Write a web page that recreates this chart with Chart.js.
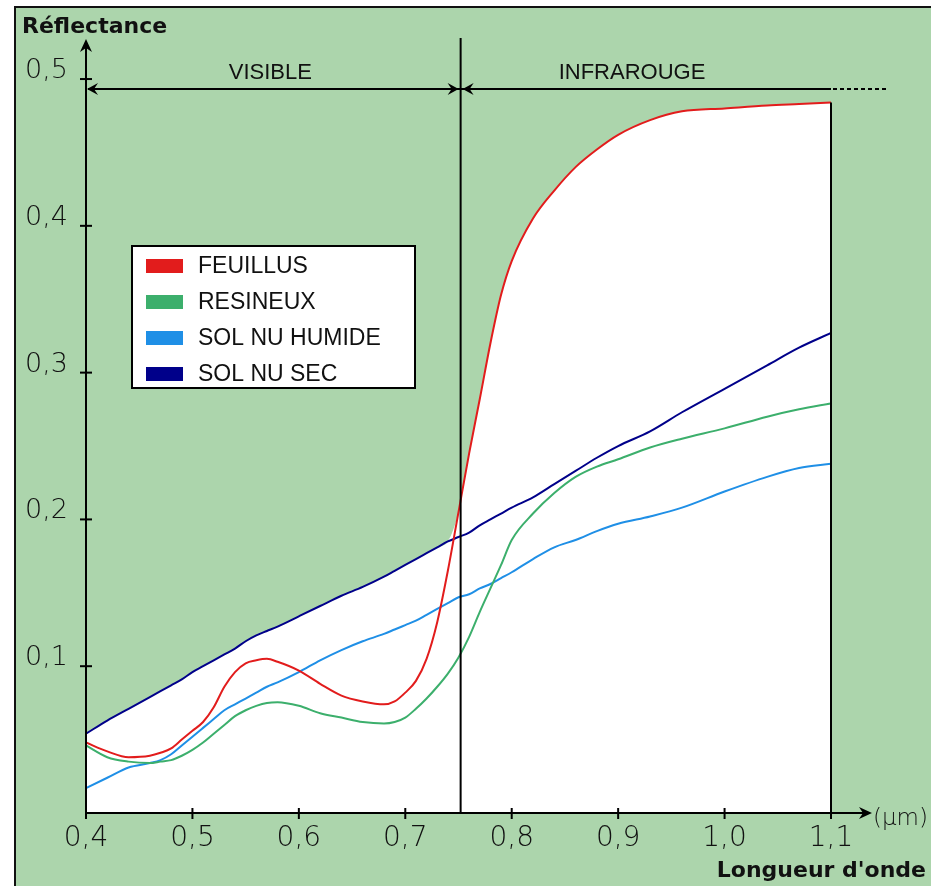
<!DOCTYPE html>
<html><head><meta charset="utf-8">
<script src="https://cdn.jsdelivr.net/npm/chart.js@4"></script>
<style>html,body{margin:0;padding:0;background:#fff;overflow:hidden}canvas{display:block}</style>
</head><body>
<canvas id="c" width="931" height="886"></canvas>
<script>
// ---- data ----
const wavelength = [0.40,0.42,0.44,0.46,0.47,0.48,0.49,0.50,0.51,0.52,0.53,0.54,0.55,0.56,0.57,0.58,0.60,0.62,0.64,0.66,0.68,0.69,0.70,0.71,0.72,0.73,0.74,0.75,0.76,0.77,0.78,0.79,0.80,0.82,0.84,0.86,0.88,0.90,0.93,0.96,1.00,1.04,1.07,1.10];
const feuillus  = [.048,.042,.038,.039,.041,.044,.050,.056,.062,.072,.086,.096,.102,.104,.105,.103,.097,.088,.080,.076,.074,.076,.082,.090,.105,.130,.165,.205,.245,.282,.320,.353,.376,.405,.424,.440,.452,.462,.472,.478,.480,.482,.483,.484];
const resineux  = [.046,.038,.035,.034,.035,.036,.039,.043,.048,.054,.060,.066,.070,.073,.075,.0755,.073,.068,.065,.062,.061,.062,.065,.071,.078,.086,.095,.106,.120,.137,.153,.169,.186,.204,.218,.229,.236,.241,.249,.255,.262,.270,.275,.279];
const solHumide = [.017,.024,.031,.034,.036,.040,.046,.052,.058,.064,.070,.074,.078,.082,.086,.089,.096,.104,.111,.117,.122,.125,.128,.131,.135,.139,.143,.147,.149,.153,.156,.160,.164,.173,.181,.186,.192,.197,.202,.208,.219,.229,.235,.238];
const solSec    = [.054,.063,.071,.079,.083,.087,.091,.096,.100,.104,.108,.112,.117,.121,.124,.127,.134,.141,.148,.154,.161,.165,.169,.173,.177,.181,.185,.188,.191,.196,.200,.204,.208,.215,.224,.233,.242,.250,.260,.273,.289,.305,.317,.327];
const seriesLabels = ['FEUILLUS','RESINEUX','SOL NU HUMIDE','SOL NU SEC'];
const seriesColors = ['#e21c1c','#3caf6c','#1f8fe6','#00008a'];
const xTicks = [0.4,0.5,0.6,0.7,0.8,0.9,1.0,1.1];
const xTickLabels = ['0,4','0,5','0,6','0,7','0,8','0,9','1,0','1,1'];
const yTicks = [0.1,0.2,0.3,0.4,0.5];
const yTickLabels = ['0,1','0,2','0,3','0,4','0,5'];
const bandEdges = [0.4, 0.752, 1.1];
const bandLabels = ['VISIBLE','INFRAROUGE'];

const allSeries = [feuillus, resineux, solHumide, solSec];
const envelope = wavelength.map((_, i) => Math.max(...allSeries.map(s => s[i])));
const pts = arr => wavelength.map((x, i) => ({x, y: arr[i]}));

const GREEN = '#acd5ac';

const deco = {
  id: 'deco',
  beforeDraw(chart) {
    const c = chart.ctx;
    c.save();
    c.fillStyle = '#fff'; c.fillRect(0, 0, chart.width, chart.height);
    c.fillStyle = GREEN; c.fillRect(14, 6, chart.width - 14, chart.height - 6);
    c.strokeStyle = '#111'; c.lineWidth = 2;
    c.beginPath(); c.moveTo(15, chart.height); c.lineTo(15, 7); c.lineTo(chart.width, 7); c.stroke();
    c.restore();
  },
  afterDatasetsDraw(chart) {
    const c = chart.ctx, xs = chart.scales.x, ys = chart.scales.y;
    const x0 = xs.getPixelForValue(bandEdges[0]);
    const xEnd = xs.getPixelForValue(bandEdges[2]);
    const xMid = xs.getPixelForValue(bandEdges[1]);
    const y0 = ys.getPixelForValue(0);
    c.save();
    c.strokeStyle = '#000'; c.fillStyle = '#000'; c.lineWidth = 2;
    // right edge of the white area
    c.beginPath(); c.moveTo(xEnd, ys.getPixelForValue(envelope[envelope.length - 1])); c.lineTo(xEnd, y0); c.stroke();
    // visible / infrared boundary
    c.beginPath(); c.moveTo(xMid, 38); c.lineTo(xMid, y0); c.stroke();
    // y axis with arrow
    c.beginPath(); c.moveTo(x0, y0); c.lineTo(x0, 48); c.stroke();
    c.beginPath(); c.moveTo(x0, 39); c.lineTo(x0 - 6, 52); c.lineTo(x0, 48); c.lineTo(x0 + 6, 52); c.closePath(); c.fill();
    // x axis with arrow
    c.beginPath(); c.moveTo(x0, y0); c.lineTo(864, y0); c.stroke();
    c.beginPath(); c.moveTo(872, y0); c.lineTo(859, y0 - 6); c.lineTo(863, y0); c.lineTo(859, y0 + 6); c.closePath(); c.fill();
    // tick marks
    c.lineWidth = 2;
    xTicks.forEach(v => { const p = xs.getPixelForValue(v); c.beginPath(); c.moveTo(p, y0 - 5); c.lineTo(p, y0 + 6); c.stroke(); });
    yTicks.forEach(v => { const p = ys.getPixelForValue(v); c.beginPath(); c.moveTo(x0 - 6, p); c.lineTo(x0 + 6, p); c.stroke(); });
    // band arrow line
    const ya = ys.getPixelForValue(0.5) + 10;
    c.beginPath(); c.moveTo(x0 + 2, ya); c.lineTo(xEnd, ya); c.stroke();
    c.setLineDash([4, 3]);
    c.beginPath(); c.moveTo(xEnd + 2, ya); c.lineTo(886, ya); c.stroke();
    c.setLineDash([]);
    const head = (tip, dir) => { c.beginPath(); c.moveTo(tip, ya); c.lineTo(tip + dir * 11, ya - 6); c.lineTo(tip + dir * 7, ya); c.lineTo(tip + dir * 11, ya + 6); c.closePath(); c.fill(); };
    head(x0 + 1, 1); head(xMid - 2, -1); head(xMid + 2, 1);
    // band labels
    c.font = '22px "Liberation Sans", Arial, sans-serif'; c.fillStyle = '#111'; c.textAlign = 'center'; c.textBaseline = 'alphabetic';
    bandLabels.forEach((t, i) => {
      const a = xs.getPixelForValue(bandEdges[i]), b = xs.getPixelForValue(bandEdges[i + 1]);
      c.fillText(t, i === 0 ? (a + b) / 2 - 3 : 632, 79);
    });
    // axis titles
    c.font = 'bold 22px "DejaVu Sans", sans-serif'; c.textAlign = 'left';
    c.fillText('Réflectance', 22, 33);
    c.textAlign = 'right';
    c.fillText("Longueur d'onde", 926, 877);
    c.font = '200 23px "DejaVu Sans", sans-serif'; c.textAlign = 'left'; c.fillStyle = '#111';
    c.fillText('(µm)', 873, 825);
    // legend
    c.fillStyle = '#fff'; c.fillRect(132, 246, 283, 142);
    c.strokeStyle = '#000'; c.lineWidth = 2; c.strokeRect(132, 246, 283, 142);
    c.font = '23px "Liberation Sans", Arial, sans-serif'; c.textBaseline = 'middle'; c.textAlign = 'left';
    chart.data.datasets.filter(d => d.inLegend).forEach((d, i) => {
      const cy = 266 + i * 36;
      c.fillStyle = d.borderColor; c.fillRect(146, cy - 7, 37, 14);
      c.fillStyle = '#111'; c.fillText(d.label, 198, cy + 1);
    });
    c.restore();
  }
};

const datasets = allSeries.map((s, i) => ({
  label: seriesLabels[i], data: pts(s), borderColor: seriesColors[i], backgroundColor: seriesColors[i],
  borderWidth: 2, pointRadius: 0, fill: false, cubicInterpolationMode: 'monotone', order: 1, inLegend: true
}));
datasets.push({
  label: 'envelope', data: pts(envelope), borderWidth: 0, borderColor: 'rgba(0,0,0,0)', backgroundColor: '#fff',
  pointRadius: 0, fill: 'origin', cubicInterpolationMode: 'monotone', order: 5, inLegend: false
});

new Chart(document.getElementById('c'), {
  type: 'line',
  data: { datasets },
  options: {
    responsive: false, animation: false, devicePixelRatio: 1,
    layout: { padding: { left: 0, right: 100, top: 35, bottom: 0 } },
    plugins: { legend: { display: false }, tooltip: { enabled: false } },
    scales: {
      x: {
        type: 'linear', min: 0.4, max: 1.1,
        grid: { display: false, drawTicks: false }, border: { display: false },
        afterBuildTicks: s => { s.ticks = xTicks.map(v => ({ value: v })); },
        afterFit: s => { s.height = 73; },
        ticks: { padding: 9, color: '#111', font: { family: '"DejaVu Sans"', size: 28, weight: '200' },
          callback: (v) => xTickLabels[xTicks.findIndex(t => Math.abs(t - v) < 1e-6)] }
      },
      y: {
        min: 0, max: 0.53,
        grid: { display: false, drawTicks: false }, border: { display: false },
        afterBuildTicks: s => { s.ticks = yTicks.map(v => ({ value: v })); },
        afterFit: s => { s.width = 86; },
        ticks: { padding: 18, labelOffset: -8, color: '#111', font: { family: '"DejaVu Sans"', size: 27, weight: '200' },
          callback: (v) => yTickLabels[yTicks.findIndex(t => Math.abs(t - v) < 1e-6)] }
      }
    }
  },
  plugins: [deco]
});
</script>
</body></html>
